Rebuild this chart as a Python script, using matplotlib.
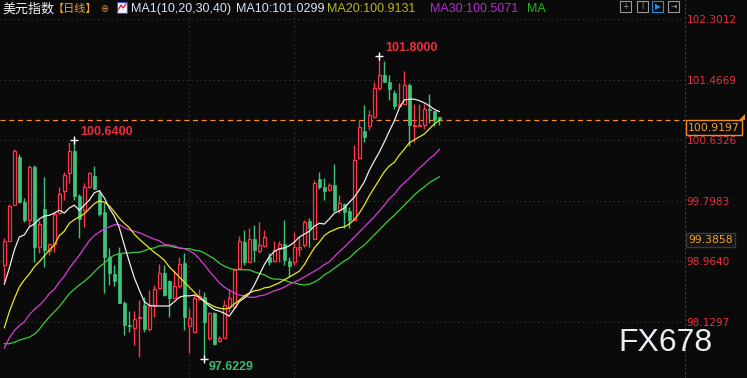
import matplotlib
matplotlib.use("Agg")
import matplotlib.pyplot as plt
from matplotlib.patches import Rectangle, Polygon
from matplotlib.lines import Line2D
import numpy as np

# daily OHLC of the dollar index
open_ = [98.91, 99.25, 99.74, 100.40, 99.79, 99.54, 100.27, 99.17, 99.69, 99.11,
         99.21, 99.63, 99.93, 100.18, 100.49, 99.87, 99.67, 99.99, 100.14, 99.91,
         99.65, 99.02, 98.79, 99.08, 98.39, 98.09, 98.05, 98.18, 98.36, 98.03,
         98.36, 98.60, 98.80, 98.69, 98.46, 98.62, 98.94, 98.08, 97.99, 98.45,
         98.48, 97.91, 98.25, 97.87, 97.91, 98.34, 98.34, 98.87, 99.23, 98.96,
         99.28, 99.11, 99.18, 99.02, 98.97, 99.14, 99.20, 98.97, 98.95, 99.14,
         99.19, 99.52, 99.28, 100.10, 99.99, 99.95, 100.02, 99.67, 99.75, 99.66,
         99.54, 100.39, 100.76, 100.83, 100.96, 101.35, 101.54, 101.44, 101.28, 101.10,
         101.14, 101.40, 100.83, 100.83, 100.85, 101.07, 101.04, 100.95]
high = [99.29, 99.76, 100.52, 100.45, 99.84, 100.30, 100.30, 99.54, 100.13, 99.21,
        99.65, 99.99, 100.20, 100.61, 100.64, 99.90, 100.04, 100.20, 100.28, 99.95,
        99.77, 99.15, 98.92, 99.17, 98.42, 98.28, 98.28, 98.43, 98.48, 98.57,
        98.64, 98.93, 98.92, 98.71, 98.85, 99.03, 99.08, 98.32, 98.51, 98.59,
        98.55, 98.27, 98.27, 97.93, 98.43, 98.59, 98.87, 99.31, 99.40, 99.42,
        99.47, 99.51, 99.40, 99.08, 99.25, 99.25, 99.54, 99.03, 99.37, 99.31,
        99.54, 99.56, 100.09, 100.20, 100.11, 100.04, 100.31, 99.88, 99.77, 99.71,
        100.57, 100.91, 101.12, 101.05, 101.44, 101.80, 101.72, 101.53, 101.33, 101.42,
        101.59, 101.42, 101.13, 101.13, 101.13, 101.27, 101.04, 100.96]
low = [98.69, 99.25, 99.74, 99.77, 99.51, 99.45, 98.96, 99.08, 98.89, 99.05,
       99.10, 99.62, 99.81, 100.04, 99.81, 99.29, 99.44, 99.97, 99.96, 99.59,
       98.53, 98.64, 98.62, 98.39, 97.95, 97.99, 97.81, 97.65, 97.99, 98.01,
       98.20, 98.59, 98.49, 98.20, 98.46, 98.60, 98.02, 97.70, 97.99, 98.43,
       97.6229, 97.88, 97.81, 97.85, 97.91, 98.27, 98.32, 98.87, 98.92, 98.95,
       98.96, 99.08, 99.17, 98.92, 98.96, 98.96, 98.92, 98.75, 98.92, 99.04,
       99.17, 99.17, 99.28, 99.96, 99.81, 99.93, 99.65, 99.63, 99.43, 99.43,
       99.54, 100.38, 100.61, 100.78, 100.94, 101.33, 101.44, 101.19, 101.07, 101.10,
       101.14, 100.55, 100.61, 100.83, 100.79, 100.87, 100.83, 100.85]
close = [99.25, 99.73, 100.49, 99.79, 99.54, 100.27, 99.17, 99.48, 99.12, 99.20,
         99.62, 99.90, 100.16, 100.49, 99.87, 99.55, 99.99, 100.18, 99.96, 99.62,
         99.02, 98.80, 98.69, 98.39, 98.09, 98.07, 98.17, 98.20, 98.03, 98.35,
         98.58, 98.80, 98.50, 98.46, 98.62, 98.93, 98.20, 98.19, 98.46, 98.49,
         98.13, 98.25, 97.82, 97.91, 98.37, 98.46, 98.85, 99.25, 98.96, 99.28,
         99.12, 99.19, 99.30, 98.96, 99.12, 99.20, 98.98, 98.90, 99.16, 99.16,
         99.51, 99.43, 100.05, 99.99, 99.94, 100.02, 99.67, 99.77, 99.65, 99.54,
         100.36, 100.81, 100.68, 100.98, 101.35, 101.54, 101.44, 101.34, 101.10, 101.14,
         101.40, 100.84, 100.85, 100.85, 101.07, 101.05, 100.92, 100.9197]

# moving averages as drawn
ma10 = [98.65, 98.87, 99.12, 99.30, 99.33, 99.44, 99.48, 99.55, 99.59, 99.60,
        99.63, 99.67, 99.63, 99.70, 99.74, 99.67, 99.74, 99.81, 99.91, 99.94,
        99.84, 99.70, 99.59, 99.43, 99.19, 98.96, 98.74, 98.57, 98.41, 98.36,
        98.35, 98.35, 98.35, 98.35, 98.41, 98.47, 98.49, 98.49, 98.50, 98.47,
        98.42, 98.35, 98.30, 98.28, 98.25, 98.21, 98.31, 98.41, 98.46, 98.52,
        98.64, 98.78, 98.92, 99.03, 99.10, 99.14, 99.15, 99.18, 99.23, 99.30,
        99.34, 99.38, 99.45, 99.49, 99.48, 99.55, 99.63, 99.66, 99.70, 99.78,
        99.85, 99.95, 100.06, 100.22, 100.35, 100.47, 100.61, 100.76, 100.90, 101.08,
        101.19, 101.20, 101.20, 101.18, 101.15, 101.11, 101.06, 101.03]
ma20 = [98.05, 98.27, 98.45, 98.61, 98.71, 98.79, 98.89, 98.96, 99.04, 99.12,
        99.19, 99.32, 99.38, 99.49, 99.54, 99.58, 99.62, 99.69, 99.76, 99.80,
        99.78, 99.73, 99.65, 99.56, 99.49, 99.43, 99.34, 99.27, 99.21, 99.15,
        99.09, 99.04, 98.98, 98.89, 98.82, 98.75, 98.68, 98.61, 98.54, 98.47,
        98.41, 98.38, 98.34, 98.32, 98.31, 98.32, 98.38, 98.43, 98.49, 98.53,
        98.56, 98.57, 98.60, 98.61, 98.64, 98.67, 98.71, 98.75, 98.79, 98.83,
        98.92, 99.04, 99.15, 99.23, 99.32, 99.37, 99.40, 99.43, 99.44, 99.48,
        99.54, 99.63, 99.74, 99.87, 99.98, 100.09, 100.20, 100.28, 100.33, 100.43,
        100.51, 100.60, 100.64, 100.68, 100.72, 100.79, 100.86, 100.91]
ma30 = [97.77, 97.91, 98.01, 98.08, 98.13, 98.23, 98.30, 98.36, 98.43, 98.52,
        98.58, 98.68, 98.76, 98.87, 98.96, 99.05, 99.15, 99.25, 99.32, 99.37,
        99.41, 99.44, 99.47, 99.47, 99.43, 99.40, 99.38, 99.36, 99.33, 99.30,
        99.27, 99.25, 99.20, 99.19, 99.18, 99.15, 99.14, 99.11, 99.07, 99.00,
        98.92, 98.83, 98.75, 98.67, 98.61, 98.57, 98.53, 98.50, 98.49, 98.47,
        98.47, 98.49, 98.50, 98.53, 98.56, 98.58, 98.61, 98.65, 98.68, 98.71,
        98.75, 98.79, 98.83, 98.87, 98.92, 98.96, 99.03, 99.10, 99.16, 99.23,
        99.30, 99.37, 99.44, 99.51, 99.58, 99.66, 99.74, 99.83, 99.89, 99.98,
        100.05, 100.11, 100.18, 100.25, 100.31, 100.38, 100.43, 100.51]
ma40 = [97.83, 97.83, 97.85, 97.88, 97.90, 97.92, 97.96, 98.03, 98.12, 98.20,
        98.27, 98.34, 98.43, 98.52, 98.58, 98.64, 98.69, 98.75, 98.82, 98.89,
        98.94, 99.01, 99.05, 99.07, 99.08, 99.08, 99.09, 99.09, 99.11, 99.14,
        99.15, 99.18, 99.18, 99.18, 99.16, 99.15, 99.14, 99.14, 99.12, 99.11,
        99.08, 99.04, 99.00, 98.94, 98.90, 98.87, 98.85, 98.85, 98.85, 98.85,
        98.82, 98.80, 98.78, 98.74, 98.72, 98.72, 98.71, 98.68, 98.67, 98.65,
        98.64, 98.65, 98.68, 98.72, 98.78, 98.82, 98.87, 98.92, 98.97, 99.01,
        99.08, 99.14, 99.19, 99.26, 99.33, 99.40, 99.47, 99.54, 99.60, 99.67,
        99.74, 99.81, 99.88, 99.94, 99.99, 100.05, 100.09, 100.13]

price_ticks = [102.3012, 101.4669, 100.6326, 99.7983, 98.9640, 98.1297]
last_price = 100.9197
cursor_price = 99.3858
month_marks = [37, 58]

BG = '#0a0a0a'
UP = '#ff3448'
DOWN = '#3ec27c'
W, H = 747, 378

plt.rcParams['font.family'] = ['Liberation Sans', 'Noto Sans CJK SC', 'DejaVu Sans']

fig = plt.figure(figsize=(W / 100, H / 100), dpi=100, facecolor=BG)
ax = fig.add_axes([0, 0, 685 / W, 1])
ax.set_facecolor(BG)

x = np.arange(len(close))
o, h, l, c = map(np.array, (open_, high, low, close))
up = c >= o
lo = np.minimum(o, c)
hi = np.maximum(o, c)

# wicks (hollow up candles get no line through the body)
ax.vlines(x[up], l[up], lo[up], color=UP, lw=1, zorder=3)
ax.vlines(x[up], hi[up], h[up], color=UP, lw=1, zorder=3)
ax.vlines(x[~up], l[~up], h[~up], color=DOWN, lw=1, zorder=3)
ax.bar(x[up], hi[up] - lo[up], bottom=lo[up], width=0.68,
       facecolor=BG, edgecolor=UP, linewidth=0.9, zorder=3)
ax.bar(x[~up], hi[~up] - lo[~up], bottom=lo[~up], width=0.68,
       facecolor=DOWN, edgecolor=DOWN, linewidth=0.5, zorder=3)

for ma, col in ((ma40, '#3ccc3c'), (ma30, '#d83ad8'), (ma20, '#e8e81a'), (ma10, '#ececec')):
    ax.plot(x, ma, color=col, lw=0.9, zorder=4)

ax.set_xlim(-0.86, 136.14)
ax.set_ylim(97.358, 102.567)

# price scale on the right
ax.yaxis.tick_right()
ax.set_yticks(price_ticks)
ax.set_yticklabels(['%.4f' % p for p in price_ticks])
ax.tick_params(axis='y', length=0, pad=1.2, labelsize=7.6, labelcolor='#e8303c')
for t in ax.get_yticklabels():
    t.set_fontfamily('DejaVu Sans')
ax.set_xticks([])
ax.grid(axis='y', color='#404040', ls=(0, (1, 3)), lw=0.8)
for m in month_marks:
    ax.axvline(m, color='#404040', ls=(0, (1, 3)), lw=0.8)
for s in ('left', 'top', 'bottom'):
    ax.spines[s].set_visible(False)
ax.spines['right'].set_color('#404040')
ax.spines['right'].set_linestyle((0, (1, 3)))

# last price line and boxes
ax.axhline(last_price, color='#ff9020', ls=(0, (4, 3)), lw=0.9, zorder=2)
ax.annotate('%.4f' % last_price, xy=(1.0, last_price), xycoords=ax.get_yaxis_transform(),
            xytext=(3, -8), textcoords='offset pixels', ha='left', va='center',
            fontsize=7.8, color='#f5a030', family='DejaVu Sans',
            bbox=dict(boxstyle='square,pad=0.2', fc=BG, ec='#f08a20', lw=1))
ax.annotate('%.4f' % cursor_price, xy=(1.0, cursor_price), xycoords=ax.get_yaxis_transform(),
            xytext=(3, -9), textcoords='offset pixels', ha='left', va='center',
            fontsize=7.8, color='#f0a030', family='DejaVu Sans',
            bbox=dict(boxstyle='square,pad=0.2', fc='#141414', ec='#383838', lw=1))
fig.add_artist(Polygon([(739 / W, 1 - 120 / H), (745 / W, 1 - 120 / H), (745 / W, 1 - 114 / H)],
                       closed=True, fc='#f08a20', ec='none', transform=fig.transFigure))

# extremes
i_hi = int(np.argmax(h))
i_lo = int(np.argmin(l))
for i, p, off, col in ((i_hi, h[i_hi], (6, 8), '#e8303c'),
                       (14, h[14], (6, 8), '#e8303c'),
                       (i_lo, l[i_lo], (4, -8), '#3cb878')):
    ax.plot(i, p, marker='+', color='white', ms=6, mew=1, zorder=5)
    ax.annotate('%.4f' % p, xy=(i, p), xytext=off, textcoords='offset pixels',
                ha='left', va='center', fontsize=9, fontweight='bold', color=col)

# header
def fx(px):
    return px / W

def fy(py):
    return 1 - py / H

fig.text(fx(2), fy(9), '美元指数', fontsize=9.4, color='#f0f0f0', va='center',
         family=['Noto Sans CJK SC'])
fig.text(fx(53), fy(9), '【日线】', fontsize=8.0, color='#f0a030', va='center',
         family=['Noto Sans CJK SC'])
fig.text(fx(104), fy(9), '⊕', fontsize=7, color='#e08a30', va='center', ha='center',
         family=['DejaVu Sans'])
fig.add_artist(Rectangle((fx(117), fy(13)), 10 / W, 11 / H, transform=fig.transFigure,
                         fc='#f4f4ff', ec='#3050d0', lw=0.8))
fig.add_artist(Line2D([fx(118), fx(121), fx(123), fx(126)], [fy(10), fy(5), fy(8), fy(4)],
                      transform=fig.transFigure, color='#e02030', lw=0.9))
fig.text(fx(131), fy(9), 'MA1(10,20,30,40)', fontsize=9, color='#d6e2fa', va='center')
fig.text(fx(236), fy(9), 'MA10:101.0299', fontsize=9, color='#d6e2fa', va='center')
fig.text(fx(327), fy(9), 'MA20:100.9131', fontsize=9, color='#b8b81e', va='center')
fig.text(fx(430), fy(9), 'MA30:100.5071', fontsize=9, color='#b42ad2', va='center')
fig.text(fx(527), fy(9), 'MA', fontsize=9, color='#22b422', va='center')

for x0, col, glyph in ((620, '#9a9a9a', '+'), (637, '#9a9a9a', 'I'),
                       (652, '#2a8ae0', '▶'), (668, '#9a9a9a', '⇥')):
    fig.add_artist(Rectangle((fx(x0), fy(12)), 11 / W, 11 / H, transform=fig.transFigure,
                             fc='none', ec=col, lw=0.8))
    fig.text(fx(x0 + 5.5), fy(6.5), glyph, fontsize=5.5, color=col, ha='center', va='center',
             family=['DejaVu Sans'])

# watermark
fig.text(fx(618), fy(343), 'FX678', fontsize=23, color='#e8eef4', va='center')

fig.savefig('out.png', dpi=100, facecolor=BG)
